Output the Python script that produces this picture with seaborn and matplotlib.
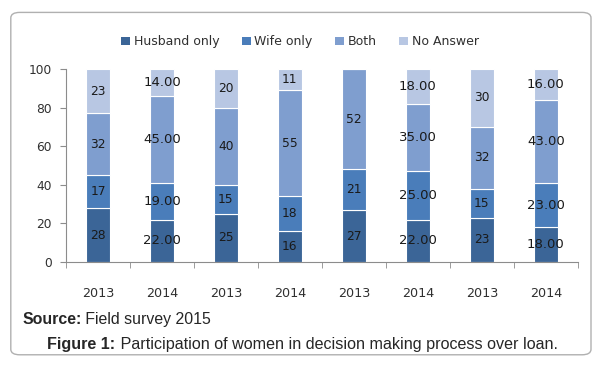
import numpy as np
import pandas as pd
import matplotlib
matplotlib.use("Agg")
import matplotlib.pyplot as plt
from matplotlib.patches import FancyBboxPatch, Patch
import seaborn as sns

# values (percent of respondents)
years = ["2013", "2014", "2013", "2014", "2013", "2014", "2013", "2014"]
husband_only = [28, 22, 25, 16, 27, 22, 23, 18]
wife_only = [17, 19, 15, 18, 21, 25, 15, 23]
both = [32, 45, 40, 55, 52, 35, 32, 43]
no_answer = [23, 14, 20, 11, 0, 18, 30, 16]
# how each bar's labels were written in the original
label_fmt = ["{:.0f}", "{:.2f}", "{:.0f}", "{:.0f}", "{:.0f}", "{:.2f}", "{:.0f}", "{:.2f}"]

series = ["Husband only", "Wife only", "Both", "No Answer"]
colors = ["#3b6597", "#4a7dba", "#7f9ecf", "#b8c7e3"]

sns.set_style("white")
plt.rcParams['font.family'] = ['DejaVu Sans']

groups = [f"g{i}" for i in range(len(years))]
df = pd.DataFrame({
    "group": groups,
    "Husband only": husband_only,
    "Wife only": wife_only,
    "Both": both,
    "No Answer": no_answer,
})

fig = plt.figure(figsize=(6, 3.65), dpi=100)
ax = fig.add_axes([0.11, 0.282, 0.853, 0.529])

# rounded frame around the whole figure
frame = FancyBboxPatch((0.018, 0.028), 0.967, 0.938, boxstyle="round,pad=0,rounding_size=0.015",
                       transform=fig.transFigure, fill=False, edgecolor="#b0b0b0", linewidth=1.0)
fig.patches.append(frame)

bottom = np.zeros(len(groups))
for name, col in zip(series, colors):
    vals = df[name].to_numpy(dtype=float)
    sns.barplot(data=df, x="group", y=name, order=groups, color=col, width=0.375,
                bottom=bottom, edgecolor="white", linewidth=0.8, saturation=1, ax=ax)
    for i, v in enumerate(vals):
        if v <= 0:
            continue
        big = label_fmt[i] != "{:.0f}"
        ax.text(i, bottom[i] + v / 2, label_fmt[i].format(v), ha="center", va="center",
                fontsize=9.5 if big else 8.8, color="#1a1a1a")
    bottom = bottom + vals

ax.set_xlim(-0.5, len(groups) - 0.5)
ax.set_ylim(0, 100)
ax.set_yticks(range(0, 101, 20))
ax.set_xticks(range(len(groups)))
ax.set_xticklabels(years)
ax.set_xticks(np.arange(-0.5, len(groups), 1), minor=True)
ax.set_xlabel("")
ax.set_ylabel("")

for s in ["top", "right"]:
    ax.spines[s].set_visible(False)
for s in ["left", "bottom"]:
    ax.spines[s].set_color("#8c8c8c")
    ax.spines[s].set_linewidth(0.8)

ax.tick_params(axis="x", which="major", length=0, pad=18, labelsize=9.2, labelcolor="#303030")
ax.tick_params(axis="x", which="minor", length=4, direction="out", color="#8c8c8c", bottom=True)
ax.tick_params(axis="y", length=4, direction="out", color="#8c8c8c", left=True, pad=6,
               labelsize=8.8, labelcolor="#303030")

handles = [Patch(facecolor=c, edgecolor="none") for c in colors]
fig.legend(handles, series, loc="center", bbox_to_anchor=(0.5, 0.885), ncol=4, frameon=False,
           fontsize=9, handlelength=0.7, handleheight=0.7, handletextpad=0.3, columnspacing=1.8,
           labelcolor="#303030")

# source line and caption: bold lead-in followed by plain text
src = fig.text(0.037, 0.112, "Source:", fontsize=11.4, fontweight="bold", family="Liberation Sans")
ax.annotate(" Field survey 2015", xy=(1, 0), xycoords=src, va="bottom", ha="left",
            fontsize=11.4, family="Liberation Sans", annotation_clip=False)
cap = fig.text(0.079, 0.045, "Figure 1:", fontsize=11.6, fontweight="bold", family="Liberation Sans")
ax.annotate(" Participation of women in decision making process over loan.", xy=(1, 0),
            xycoords=cap, va="bottom", ha="left", fontsize=11.6, family="Liberation Sans",
            annotation_clip=False)

fig.savefig("out.png", dpi=100)
